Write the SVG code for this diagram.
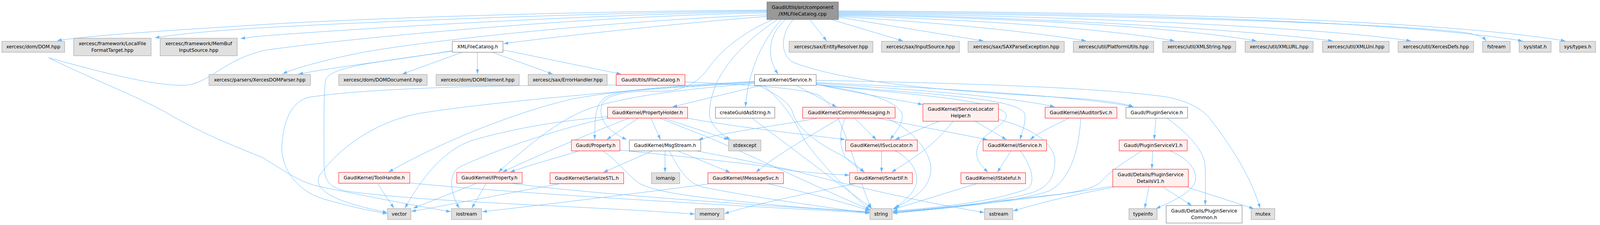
<svg xmlns="http://www.w3.org/2000/svg" width="4250" height="577" viewBox="0 0 4250 577">
<style>
.g rect{fill:#e0e0e0;stroke:#999999;stroke-width:1}
.w rect{fill:#ffffff;stroke:#666666;stroke-width:1}
.r rect{fill:#fff0f0;stroke:#ff0000;stroke-width:1}
.m rect{fill:#999999;stroke:#666666;stroke-width:1}
text{font-family:"DejaVu Sans",sans-serif;font-size:12.7px;fill:#000;text-anchor:middle}
.e path{fill:none;stroke:#63b8ff;stroke-width:1;marker-end:url(#a)}
</style>
<defs>
<marker id="a" viewBox="0 0 12 8" refX="12" refY="4" markerWidth="12" markerHeight="8" markerUnits="userSpaceOnUse" orient="auto"><path d="M0,0 L12,4 L0,8 z" fill="#63b8ff"/></marker>
</defs>
<rect width="4250" height="577" fill="#ffffff"/>
<g id="diagram" transform="scale(0.9624,1)">
<g class="e" id="edges">
<path d="M2040,26 C1600,28 1000,45 700,63 C450,78 250,90 152,104"/>
<path d="M2040,28 C1600,32 1000,55 700,71 C550,80 470,88 412,97"/>
<path d="M2040,30 C1600,36 1000,70 700,92 C680,94 660,96 640,99"/>
<path d="M2040,33 C1600,40 1000,90 710,128 C600,150 560,210 500,218 C420,225 250,180 129,148 C250,205 360,245 439,287 C550,350 640,380 700,405 C760,440 800,470 858,480 C960,500 1090,525 1199,543"/>
<path d="M2040,38 C1700,50 1200,95 972,133 C880,150 800,170 752,189"/>
<path d="M2040,42 C1800,60 1450,97 1340,112"/>
<path d="M2154,50 L2199,105"/>
<path d="M2211,50 L2402,105"/>
<path d="M2230,44 L2616,105"/>
<path d="M2230,42 C2500,58 2750,82 2889,105"/>
<path d="M2230,40 C2600,50 2950,74 3124,105"/>
<path d="M2230,38 C2600,44 3100,64 3342,105"/>
<path d="M2230,36 C2700,42 3300,74 3545,105"/>
<path d="M2230,34 C2800,40 3500,68 3753,105"/>
<path d="M2230,32 C2900,38 3700,58 3900,84 C3930,89 3945,95 3953,105"/>
<path d="M2230,30 C2900,34 3700,50 4050,105"/>
<path d="M2230,28 C3000,31 3800,48 4164,105"/>
<path d="M2090,50 C2040,90 2040,150 2070,190"/>
<path d="M2079,50 C2030,100 1990,180 1983,274"/>
<path d="M2068,50 C1960,120 1890,200 1887,290 C1887,315 1910,340 1943,358"/>
<path d="M2054,51 C1960,90 1910,140 1880,180 C1850,220 1800,236 1750,234 C1680,232 1620,240 1604,263 C1590,290 1600,330 1667,358"/>
<path d="M2110,50 C2075,90 2075,140 2110,160 C2300,230 2700,240 2900,255 C2950,260 2990,265 3015,274"/>
<path d="M1203,130 C1050,155 900,170 794,190"/>
<path d="M1229,134 L1070,190"/>
<path d="M1270,134 L1270,190"/>
<path d="M1309,134 L1470,190"/>
<path d="M1338,128 L1652,190"/>
<path d="M1203,131 C1000,160 880,170 866,205 C860,240 862,380 862,420 C862,470 880,480 920,490 C1150,520 1500,525 1848,549"/>
<path d="M1639,218 C1400,218 1000,222 818,250 C780,262 755,300 750,370 C745,430 790,490 860,510 C920,527 980,540 1030,548"/>
<path d="M1821,210 C2000,218 2130,225 2180,245 C2250,290 2280,460 2318,534"/>
<path d="M2029,218 L1789,274"/>
<path d="M2116,218 L2225,274"/>
<path d="M2171,216 C2260,235 2380,255 2454,268"/>
<path d="M2171,214 C2450,230 2700,250 2805,274"/>
<path d="M2171,212 C2500,225 2900,250 3014,274"/>
<path d="M2171,206 C2500,212 2900,222 3100,248 C3170,260 3200,285 3215,300 C3280,380 3330,460 3352,534"/>
<path d="M2171,217 C2300,235 2380,255 2399,290 C2405,315 2385,335 2368,358"/>
<path d="M2171,217 C2400,240 2640,255 2675,290 C2690,320 2600,340 2598,390 C2597,410 2610,425 2628,442"/>
<path d="M2171,217 C2450,240 2700,250 2725,290 C2730,310 2722,330 2713,358"/>
<path d="M2016,218 C2060,240 2100,260 2109,290 C2120,330 2180,370 2236,397 C2260,410 2285,428 2299,442"/>
<path d="M2007,212 C1800,225 1660,228 1620,245 C1585,260 1582,290 1582,358"/>
<path d="M2007,214 C1800,230 1640,250 1550,285 C1480,315 1420,360 1326,441"/>
<path d="M2007,209 C1750,220 1600,240 1527,253 C1400,280 1200,350 1034,441"/>
<path d="M2007,210 C1700,228 1300,262 1121,290 C1000,310 900,380 850,450 C830,490 900,520 1030,545"/>
<path d="M2030,218 C2080,260 2110,300 2140,360 C2200,440 2270,500 2314,540"/>
<path d="M2179,302 C2100,318 1950,335 1858,358"/>
<path d="M2236,302 C2170,340 2060,400 2011,442"/>
<path d="M2272,302 L2331,358"/>
<path d="M2249,302 C2230,340 2234,380 2250,405 C2265,420 2285,432 2300,442"/>
<path d="M2358,302 C2440,340 2480,400 2476,440 C2470,490 2420,515 2376,535"/>
<path d="M2329,302 L2626,358"/>
<path d="M2498,311 L2381,358"/>
<path d="M2535,311 C2480,380 2420,410 2372,442"/>
<path d="M2594,311 L2677,358"/>
<path d="M2656,306 C2750,330 2810,370 2806,420 C2800,470 2780,490 2700,505 C2600,525 2480,538 2375,545"/>
<path d="M2845,302 C2810,320 2770,335 2740,358"/>
<path d="M2875,302 C2870,380 2850,460 2790,490 C2700,520 2500,535 2375,547"/>
<path d="M2689,387 L2653,442"/>
<path d="M2714,387 C2740,420 2760,470 2730,485 C2650,515 2500,533 2375,541"/>
<path d="M2598,471 L2375,537"/>
<path d="M2345,387 L2345,442"/>
<path d="M2381,387 C2430,410 2460,460 2420,500 C2405,515 2395,525 2380,533"/>
<path d="M2276,471 C2150,495 2000,525 1927,548"/>
<path d="M3075,302 L3070,358"/>
<path d="M3103,302 C3150,335 3200,380 3205,420 C3208,460 3206,500 3206,526"/>
<path d="M3066,387 L3064,433"/>
<path d="M3112,387 C3160,405 3190,440 3178,470 C3160,500 3110,520 3075,535"/>
<path d="M3037,387 C3000,410 2950,440 2930,465 C2910,485 2850,495 2800,500 C2650,515 2500,535 2375,543"/>
<path d="M3056,480 L3045,534"/>
<path d="M3094,480 L3170,527"/>
<path d="M3158,480 L3335,535"/>
<path d="M2961,477 C2800,505 2550,530 2375,545"/>
<path d="M2963,480 C2850,500 2760,522 2695,541"/>
<path d="M1735,387 L1605,442"/>
<path d="M1769,387 L1769,442"/>
<path d="M1803,387 L1942,442"/>
<path d="M1780,387 C1810,440 1830,470 1870,480 C2000,505 2150,525 2313,547"/>
<path d="M1853,387 C1950,405 2050,425 2100,435 C2200,460 2400,510 2618,545"/>
<path d="M1883,472 C1700,495 1450,525 1283,543"/>
<path d="M2038,470 C2150,495 2250,520 2313,540"/>
<path d="M1486,472 C1350,495 1200,525 1094,542"/>
<path d="M1540,387 C1480,405 1420,420 1357,441"/>
<path d="M1604,387 C1640,410 1660,440 1700,470 C1760,500 1900,510 2110,530 C2200,537 2260,540 2313,543"/>
<path d="M1649,385 C1850,405 2050,425 2100,437 C2180,445 2230,448 2259,449"/>
<path d="M1005,472 L1048,534"/>
<path d="M1090,469 C1300,490 1800,520 2313,546"/>
<path d="M1266,471 L1099,534"/>
<path d="M1293,471 L1255,534"/>
<path d="M1361,470 C1500,490 1900,520 2313,544"/>
<path d="M1699,302 L1614,358"/>
<path d="M1731,302 L1757,358"/>
<path d="M1762,302 L1938,358"/>
<path d="M1676,302 C1600,330 1450,390 1337,441"/>
<path d="M1823,302 C1950,325 2100,340 2248,358"/>
<path d="M1616,299 C1500,310 1410,320 1266,357 C1180,380 1120,460 1077,534"/>
<path d="M1622,302 C1500,325 1300,390 1220,430 C1190,450 1200,500 1222,534"/>
<path d="M1753,302 C1800,320 1850,340 1871,347 C1980,390 2150,470 2314,538"/>
<path d="M1999,302 L2318,534"/>
</g>
<g id="n_main" class="m"><rect x="2040" y="5" width="190" height="45"/><text x="2135" y="23">GaudiUtils/src/component</text><text x="2135" y="40">/XMLFileCatalog.cpp</text></g>
<g id="n_dom" class="g"><rect x="5" y="106" width="167" height="28"/><text x="88.5" y="124.5">xercesc/dom/DOM.hpp</text></g>
<g id="n_localfile" class="g"><rect x="196" y="98" width="206" height="45"/><text x="299" y="116">xercesc/framework/LocalFile</text><text x="299" y="133">FormatTarget.hpp</text></g>
<g id="n_membuf" class="g"><rect x="426" y="98" width="205" height="45"/><text x="528.5" y="116">xercesc/framework/MemBuf</text><text x="528.5" y="133">InputSource.hpp</text></g>
<g id="n_xmlfc" class="w"><rect x="1203" y="106" width="135" height="28"/><text x="1270.5" y="124.5">XMLFileCatalog.h</text></g>
<g id="n_entity" class="g"><rect x="2099" y="106" width="223" height="28"/><text x="2210.5" y="124.5">xercesc/sax/EntityResolver.hpp</text></g>
<g id="n_inputsrc" class="g"><rect x="2345" y="106" width="207" height="28"/><text x="2448.5" y="124.5">xercesc/sax/InputSource.hpp</text></g>
<g id="n_saxparse" class="g"><rect x="2575" y="106" width="256" height="28"/><text x="2703" y="124.5">xercesc/sax/SAXParseException.hpp</text></g>
<g id="n_platform" class="g"><rect x="2855" y="106" width="214" height="28"/><text x="2962" y="124.5">xercesc/util/PlatformUtils.hpp</text></g>
<g id="n_xmlstring" class="g"><rect x="3093" y="106" width="194" height="28"/><text x="3190" y="124.5">xercesc/util/XMLString.hpp</text></g>
<g id="n_xmlurl" class="g"><rect x="3312" y="106" width="181" height="28"/><text x="3402.5" y="124.5">xercesc/util/XMLURL.hpp</text></g>
<g id="n_xmluni" class="g"><rect x="3518" y="106" width="177" height="28"/><text x="3606.5" y="124.5">xercesc/util/XMLUni.hpp</text></g>
<g id="n_xercesdefs" class="g"><rect x="3719" y="106" width="201" height="28"/><text x="3819.5" y="124.5">xercesc/util/XercesDefs.hpp</text></g>
<g id="n_fstream" class="g"><rect x="3944" y="106" width="73" height="28"/><text x="3980.5" y="124.5">fstream</text></g>
<g id="n_sysstat" class="g"><rect x="4041" y="106" width="85" height="28"/><text x="4083.5" y="124.5">sys/stat.h</text></g>
<g id="n_systypes" class="g"><rect x="4149" y="106" width="95" height="28"/><text x="4196.5" y="124.5">sys/types.h</text></g>
<g id="n_domparser" class="g"><rect x="556" y="191" width="270" height="28"/><text x="691" y="209.5">xercesc/parsers/XercesDOMParser.hpp</text></g>
<g id="n_domdoc" class="g"><rect x="901" y="191" width="235" height="28"/><text x="1018.5" y="209.5">xercesc/dom/DOMDocument.hpp</text></g>
<g id="n_domelem" class="g"><rect x="1160" y="191" width="221" height="28"/><text x="1270.5" y="209.5">xercesc/dom/DOMElement.hpp</text></g>
<g id="n_errhandler" class="g"><rect x="1405" y="191" width="210" height="28"/><text x="1510" y="209.5">xercesc/sax/ErrorHandler.hpp</text></g>
<g id="n_ifilecat" class="r"><rect x="1639" y="191" width="183" height="28"/><text x="1730.5" y="209.5">GaudiUtils/IFileCatalog.h</text></g>
<g id="n_service" class="w"><rect x="2007" y="191" width="164" height="28"/><text x="2089" y="209.5">GaudiKernel/Service.h</text></g>
<g id="n_propholder" class="r"><rect x="1616" y="275" width="213" height="28"/><text x="1722.5" y="293.5">GaudiKernel/PropertyHolder.h</text></g>
<g id="n_guid" class="w"><rect x="1903" y="275" width="158" height="28"/><text x="1982" y="293.5">createGuidAsString.h</text></g>
<g id="n_commonmsg" class="r"><rect x="2135" y="275" width="246" height="28"/><text x="2258" y="293.5">GaudiKernel/CommonMessaging.h</text></g>
<g id="n_slhelper" class="r"><rect x="2455" y="266" width="201" height="45"/><text x="2555.5" y="284">GaudiKernel/ServiceLocator</text><text x="2555.5" y="301">Helper.h</text></g>
<g id="n_iauditor" class="r"><rect x="2780" y="275" width="191" height="28"/><text x="2875.5" y="293.5">GaudiKernel/IAuditorSvc.h</text></g>
<g id="n_pluginsvc" class="w"><rect x="2995" y="275" width="164" height="28"/><text x="3077" y="293.5">Gaudi/PluginService.h</text></g>
<g id="n_property" class="r"><rect x="1520" y="359" width="129" height="28"/><text x="1584.5" y="377.5">Gaudi/Property.h</text></g>
<g id="n_msgstream" class="w"><rect x="1674" y="359" width="190" height="28"/><text x="1769" y="377.5">GaudiKernel/MsgStream.h</text></g>
<g id="n_stdexcept" class="g"><rect x="1938" y="359" width="86" height="28"/><text x="1981" y="377.5">stdexcept</text></g>
<g id="n_isvcloc" class="r"><rect x="2249" y="359" width="191" height="28"/><text x="2344.5" y="377.5">GaudiKernel/ISvcLocator.h</text></g>
<g id="n_iservice" class="r"><rect x="2615" y="359" width="169" height="28"/><text x="2699.5" y="377.5">GaudiKernel/IService.h</text></g>
<g id="n_pluginv1" class="r"><rect x="2977" y="359" width="181" height="28"/><text x="3067.5" y="377.5">Gaudi/PluginServiceV1.h</text></g>
<g id="n_toolhandle" class="r"><rect x="901" y="442" width="189" height="28"/><text x="995.5" y="460.5">GaudiKernel/ToolHandle.h</text></g>
<g id="n_iproperty" class="r"><rect x="1215" y="442" width="174" height="28"/><text x="1302" y="460.5">GaudiKernel/IProperty.h</text></g>
<g id="n_serialize" class="r"><rect x="1463" y="443" width="196" height="28"/><text x="1561" y="461.5">GaudiKernel/SerializeSTL.h</text></g>
<g id="n_iomanip" class="g"><rect x="1733" y="443" width="75" height="28"/><text x="1770.5" y="461.5">iomanip</text></g>
<g id="n_imsgsvc" class="r"><rect x="1883" y="443" width="201" height="28"/><text x="1983.5" y="461.5">GaudiKernel/IMessageSvc.h</text></g>
<g id="n_smartif" class="r"><rect x="2260" y="443" width="167" height="28"/><text x="2343.5" y="461.5">GaudiKernel/SmartIF.h</text></g>
<g id="n_istateful" class="r"><rect x="2556" y="443" width="172" height="28"/><text x="2642" y="461.5">GaudiKernel/IStateful.h</text></g>
<g id="n_detailsv1" class="r"><rect x="2960" y="434" width="201" height="45"/><text x="3060.5" y="452">Gaudi/Details/PluginService</text><text x="3060.5" y="469">DetailsV1.h</text></g>
<g id="n_vector" class="g"><rect x="1031" y="535" width="62" height="28"/><text x="1062" y="553.5">vector</text></g>
<g id="n_iostream" class="g"><rect x="1201" y="535" width="80" height="28"/><text x="1241" y="553.5">iostream</text></g>
<g id="n_memory" class="g"><rect x="1849" y="535" width="77" height="28"/><text x="1887.5" y="553.5">memory</text></g>
<g id="n_string" class="g"><rect x="2314" y="535" width="59" height="28"/><text x="2343.5" y="553.5">string</text></g>
<g id="n_sstream" class="g"><rect x="2619" y="535" width="75" height="28"/><text x="2656.5" y="553.5">sstream</text></g>
<g id="n_typeinfo" class="g"><rect x="3003" y="535" width="75" height="28"/><text x="3040.5" y="553.5">typeinfo</text></g>
<g id="n_common" class="w"><rect x="3102" y="527" width="202" height="45"/><text x="3203" y="545">Gaudi/Details/PluginService</text><text x="3203" y="562">Common.h</text></g>
<g id="n_mutex" class="g"><rect x="3328" y="535" width="63" height="28"/><text x="3359.5" y="553.5">mutex</text></g>
</g>
</svg>
